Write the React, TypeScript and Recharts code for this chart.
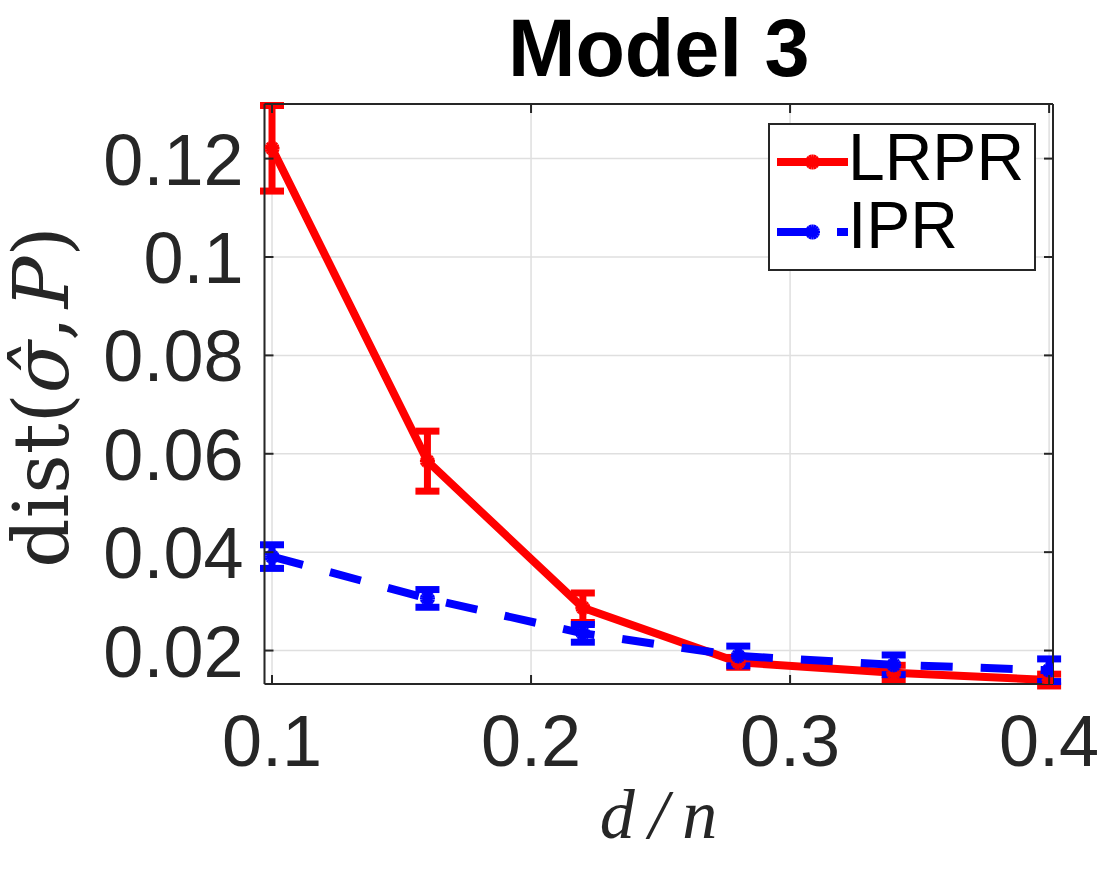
import React from 'react';
import {
  ComposedChart,
  Line,
  XAxis,
  YAxis,
  CartesianGrid,
  ErrorBar,
  Legend,
  Customized,
} from 'recharts';

const xValues = [0.1, 0.16, 0.22, 0.28, 0.34, 0.4];
const lrprValues = [0.1221, 0.0585, 0.0287, 0.0176, 0.0155, 0.014];
const lrprErrors = [0.0087, 0.0061, 0.003, 0.001, 0.0015, 0.0012];
const iprValues = [0.0391, 0.0306, 0.0235, 0.0189, 0.0171, 0.016];
const iprErrors = [0.0024, 0.0018, 0.0018, 0.002, 0.002, 0.0023];

const xTicks = [0.1, 0.2, 0.3, 0.4];
const yTicks = [0.02, 0.04, 0.06, 0.08, 0.1, 0.12];
const seriesNames = ['LRPR', 'IPR'];
const titleText = 'Model 3';

const data = xValues.map((x, i) => ({
  x,
  lrpr: lrprValues[i],
  lrprErr: lrprErrors[i],
  ipr: iprValues[i],
  iprErr: iprErrors[i],
}));

const AXIS = '#262626';
const RED = '#ff0000';
const BLUE = '#0000ff';
const TICK_LEN = 9;
const SANS = '"Liberation Sans", Arial, Helvetica, sans-serif';
const SERIF = '"DejaVu Serif", "Liberation Serif", serif';
const DASH = '32 28';

const Asterisk = ({ cx, cy, color }: { cx: number; cy: number; color: string }) => {
  const r = 7.5;
  const angles = [0, 22.5, 45, 67.5, 90, 112.5, 135, 157.5];
  return (
    <g>
      {angles.map((a) => {
        const rad = (a * Math.PI) / 180;
        const dx = Math.cos(rad) * r;
        const dy = Math.sin(rad) * r;
        return (
          <line
            key={a}
            x1={cx - dx}
            y1={cy - dy}
            x2={cx + dx}
            y2={cy + dy}
            stroke={color}
            strokeWidth={2.4}
          />
        );
      })}
    </g>
  );
};

const makeDot = (color: string) => (props: any) => {
  const { cx, cy, index } = props;
  if (cx == null || cy == null) return <g key={`d-${color}-${index}`} />;
  return (
    <g key={`d-${color}-${index}`}>
      <Asterisk cx={cx} cy={cy} color={color} />
    </g>
  );
};

const BottomTick = (props: any) => {
  const { x, y, payload } = props;
  return (
    <g>
      <line x1={x} y1={y} x2={x} y2={y - TICK_LEN} stroke={AXIS} strokeWidth={2} />
      <text x={x} y={y + 82} textAnchor="middle" fontFamily={SANS} fontSize={72} fill={AXIS}>
        {String(payload.value)}
      </text>
    </g>
  );
};

const TopTick = (props: any) => {
  const { x, y } = props;
  return <line x1={x} y1={y} x2={x} y2={y + TICK_LEN} stroke={AXIS} strokeWidth={2} />;
};

const LeftTick = (props: any) => {
  const { x, y, payload } = props;
  return (
    <g>
      <line x1={x} y1={y} x2={x + TICK_LEN} y2={y} stroke={AXIS} strokeWidth={2} />
      <text x={x - 21} y={y + 26} textAnchor="end" fontFamily={SANS} fontSize={72} fill={AXIS}>
        {String(payload.value)}
      </text>
    </g>
  );
};

const RightTick = (props: any) => {
  const { x, y } = props;
  return <line x1={x} y1={y} x2={x - TICK_LEN} y2={y} stroke={AXIS} strokeWidth={2} />;
};

const LegendBox = () => {
  const rows = [
    { name: seriesNames[0], color: RED, dash: undefined as string | undefined, y: 39, ty: 57 },
    { name: seriesNames[1], color: BLUE, dash: DASH, y: 109, ty: 125 },
  ];
  return (
    <svg width={268} height={148} style={{ display: 'block', overflow: 'visible' }}>
      <rect x={1} y={1} width={266} height={146} fill="#ffffff" stroke={AXIS} strokeWidth={2} />
      {rows.map((r) => (
        <g key={r.name}>
          <line
            x1={9}
            y1={r.y}
            x2={80}
            y2={r.y}
            stroke={r.color}
            strokeWidth={8}
            strokeDasharray={r.dash}
          />
          <Asterisk cx={44.5} cy={r.y} color={r.color} />
          <text x={80} y={r.ty} fontFamily={SANS} fontSize={66} fill="#000000">
            {r.name}
          </text>
        </g>
      ))}
    </svg>
  );
};

const Labels = () => (
  <g>
    <text
      x={658.7}
      y={76}
      textAnchor="middle"
      fontFamily={SANS}
      fontWeight="bold"
      fontSize={81}
      fill="#000000"
    >
      {titleText}
    </text>
    <text
      x={658.5}
      y={838}
      textAnchor="middle"
      fontFamily={'"Liberation Serif", serif'}
      fontStyle="italic"
      fontSize={70}
      fill={AXIS}
    >
      <tspan>d</tspan>
      <tspan dx={14}>/</tspan>
      <tspan dx={14}>n</tspan>
    </text>
    <text
      transform="translate(68,397) rotate(-90)"
      textAnchor="middle"
      fontFamily={SERIF}
      fontSize={77}
      fill={AXIS}
    >
      <tspan>dist(</tspan>
      <tspan fontStyle="italic">σ̂</tspan>
      <tspan>,</tspan>
      <tspan dx={8} fontStyle="italic">P</tspan>
      <tspan>)</tspan>
    </text>
  </g>
);

export default function App() {
  return (
    <div style={{ position: 'absolute', left: 0, top: 0, width: 1098, height: 876, background: '#fff' }}>
      <ComposedChart
        width={1098}
        height={876}
        data={data}
        margin={{ top: 0, right: 0, bottom: 0, left: 0 }}
      >
        <CartesianGrid stroke="#dfdfdf" strokeWidth={1.5} />
        <XAxis
          xAxisId={0}
          dataKey="x"
          type="number"
          domain={[0.0971, 0.4015]}
          ticks={xTicks}
          interval={0}
          allowDataOverflow
          height={192}
          tickSize={0}
          tickMargin={0}
          tickLine={false}
          axisLine={{ stroke: AXIS, strokeWidth: 2 }}
          tick={<BottomTick />}
        />
        <XAxis
          xAxisId="top"
          orientation="top"
          type="number"
          dataKey="x"
          domain={[0.0971, 0.4015]}
          ticks={xTicks}
          interval={0}
          allowDataOverflow
          height={104}
          tickSize={0}
          tickMargin={0}
          tickLine={false}
          axisLine={{ stroke: AXIS, strokeWidth: 2 }}
          tick={<TopTick />}
        />
        <YAxis
          yAxisId={0}
          type="number"
          domain={[0.0132, 0.1311]}
          ticks={yTicks}
          interval={0}
          allowDataOverflow
          width={264.5}
          tickSize={0}
          tickMargin={0}
          tickLine={false}
          axisLine={{ stroke: AXIS, strokeWidth: 2 }}
          tick={<LeftTick />}
        />
        <YAxis
          yAxisId="right"
          orientation="right"
          type="number"
          domain={[0.0132, 0.1311]}
          ticks={yTicks}
          interval={0}
          allowDataOverflow
          width={45}
          tickSize={0}
          tickMargin={0}
          tickLine={false}
          axisLine={{ stroke: AXIS, strokeWidth: 2 }}
          tick={<RightTick />}
        />
        <Line
          xAxisId={0}
          yAxisId={0}
          type="linear"
          dataKey="lrpr"
          name={seriesNames[0]}
          stroke={RED}
          strokeWidth={8}
          dot={makeDot(RED)}
          activeDot={false}
          isAnimationActive={false}
        >
          <ErrorBar dataKey="lrprErr" direction="y" width={12} strokeWidth={7} stroke={RED} />
        </Line>
        <Line
          xAxisId={0}
          yAxisId={0}
          type="linear"
          dataKey="ipr"
          name={seriesNames[1]}
          stroke={BLUE}
          strokeWidth={8}
          strokeDasharray={DASH}
          dot={makeDot(BLUE)}
          activeDot={false}
          isAnimationActive={false}
        >
          <ErrorBar dataKey="iprErr" direction="y" width={12} strokeWidth={7} stroke={BLUE} />
        </Line>
        <Legend
          layout="vertical"
          align="center"
          verticalAlign="middle"
          content={<LegendBox />}
          wrapperStyle={{ left: 768, top: 123, width: 268, height: 148 }}
        />
        <Customized component={<Labels />} />
      </ComposedChart>
    </div>
  );
}
